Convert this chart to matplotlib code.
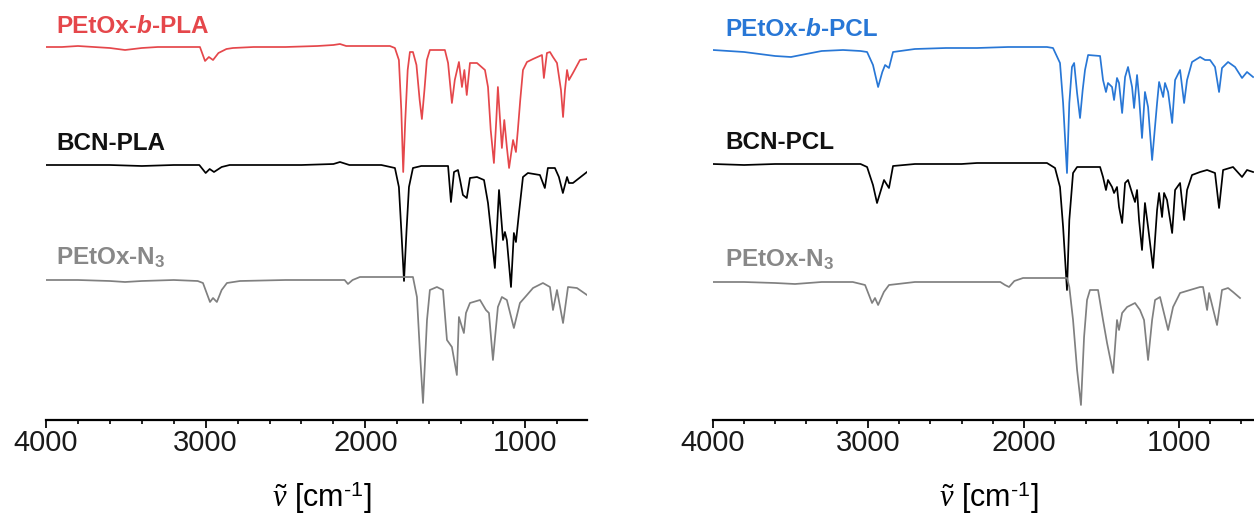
import matplotlib
matplotlib.use("Agg")
import matplotlib.pyplot as plt
from matplotlib.ticker import MultipleLocator

plt.rcParams['font.family'] = ['Liberation Sans', 'DejaVu Sans']
plt.rcParams['mathtext.fontset'] = 'custom'
plt.rcParams['mathtext.rm'] = 'Liberation Sans'
plt.rcParams['mathtext.it'] = 'Liberation Serif:italic'
plt.rcParams['mathtext.bf'] = 'Liberation Sans:bold'

# ---------------- data (wavenumber [cm-1], stacked absorbance a.u., inverted axis) ----------------
pla_block_wn = [4000, 3900, 3800, 3700, 3600, 3505, 3400, 3300, 3200, 3100, 3036, 3004, 2980, 2954, 2920,
                2870, 2829, 2700, 2500, 2300, 2200, 2159, 2120, 2000, 1900, 1846, 1815, 1790, 1775, 1763,
                1750, 1735, 1721, 1702, 1680, 1660, 1646, 1630, 1615, 1596, 1502, 1482, 1458, 1440, 1414,
                1395, 1380, 1365, 1345, 1301, 1251, 1232, 1215, 1195, 1180, 1170, 1145, 1130, 1114, 1100,
                1075, 1057, 1045, 1030, 1013, 988, 950, 894, 882, 863, 844, 825, 800, 775, 762,
                750, 737, 725, 700, 656, 612]
pla_block_a = [47, 47, 46, 47, 48, 50, 48, 47, 47, 47, 47, 61, 57, 60, 53,
               49, 48, 47, 47, 46, 45, 44, 46, 46, 46, 46, 48, 60, 110, 172,
               120, 70, 52, 52, 65, 100, 119, 90, 60, 50, 50, 63, 103, 80, 62,
               87, 70, 95, 63, 63, 70, 87, 130, 163, 120, 87, 148, 120, 147, 168,
               140, 152, 130, 100, 70, 62, 59, 55, 78, 53, 52, 57, 63, 90, 117,
               90, 70, 80, 73, 60, 59]

bcn_pla_wn = [4000, 3800, 3600, 3400, 3200, 3040, 3000, 2975, 2948, 2900, 2850, 2600, 2400, 2200, 2159,
              2100, 1900, 1815, 1790, 1775, 1758, 1742, 1727, 1702, 1650, 1482, 1464, 1445, 1420, 1407,
              1389, 1365, 1345, 1301, 1257, 1232, 1214, 1189, 1163, 1138, 1126, 1114, 1088, 1070, 1057,
              1038, 1013, 982, 907, 876, 857, 813, 788, 763, 737, 725, 700, 612]
bcn_pla_a = [165, 165, 165, 166, 165, 165, 173, 169, 172, 167, 165, 165, 165, 164, 162,
             165, 165, 168, 187, 230, 281, 230, 187, 168, 166, 166, 202, 172, 170, 180,
             195, 198, 178, 177, 180, 203, 230, 268, 190, 240, 232, 240, 287, 233, 242,
             213, 177, 173, 175, 188, 168, 168, 177, 193, 177, 183, 183, 172]

n3_left_wn = [4000, 3800, 3600, 3505, 3400, 3200, 3050, 3017, 2973, 2954, 2930, 2900, 2867, 2785, 2500,
              2200, 2130, 2109, 2080, 2034, 1900, 1702, 1677, 1658, 1639, 1614, 1596, 1552, 1514, 1489,
              1458, 1427, 1414, 1395, 1383, 1370, 1345, 1282, 1245, 1226, 1201, 1170, 1145, 1114, 1070,
              1032, 988, 950, 888, 844, 825, 800, 762, 731, 675, 612]
n3_left_a = [280, 280, 281, 282, 281, 280, 281, 283, 302, 298, 302, 290, 283, 281, 280,
             280, 280, 284, 280, 277, 277, 277, 297, 353, 403, 320, 290, 287, 290, 340,
             347, 375, 317, 327, 333, 313, 303, 300, 310, 313, 360, 307, 297, 300, 328,
             303, 295, 288, 283, 287, 310, 290, 323, 287, 288, 295]

pcl_block_wn = [4000, 3900, 3800, 3700, 3600, 3498, 3400, 3300, 3163, 3050, 3008, 2970, 2937, 2910, 2892,
                2867, 2841, 2700, 2500, 2300, 2100, 2000, 1850, 1811, 1766, 1746, 1721, 1706, 1689, 1675,
                1656, 1637, 1620, 1605, 1585, 1508, 1489, 1470, 1457, 1431, 1418, 1399, 1386, 1366, 1347,
                1328, 1302, 1289, 1270, 1257, 1238, 1219, 1199, 1173, 1141, 1128, 1102, 1090, 1070, 1044,
                1025, 993, 967, 948, 916, 864, 832, 800, 768, 742, 723, 684, 639, 594, 562,
                523]
pcl_block_a = [50, 51, 52, 54, 56, 57, 54, 51, 50, 51, 52, 65, 87, 72, 65,
               68, 52, 49, 48, 48, 47, 47, 47, 48, 63, 103, 173, 103, 67, 63,
               93, 118, 90, 70, 55, 56, 80, 92, 83, 87, 100, 78, 83, 113, 77,
               67, 87, 108, 75, 97, 138, 92, 107, 160, 103, 82, 97, 83, 92, 123,
               80, 70, 103, 80, 62, 57, 60, 60, 67, 92, 68, 62, 67, 78, 72,
               77]

bcn_pcl_wn = [4000, 3800, 3600, 3400, 3200, 3050, 3008, 2970, 2944, 2899, 2867, 2841, 2700, 2400, 2300,
              2100, 2000, 1850, 1798, 1766, 1746, 1721, 1706, 1682, 1656, 1508, 1489, 1470, 1457, 1431,
              1418, 1399, 1386, 1366, 1347, 1328, 1302, 1283, 1270, 1257, 1238, 1219, 1199, 1167, 1141,
              1128, 1109, 1096, 1077, 1044, 1025, 993, 967, 948, 916, 864, 819, 768, 742, 716,
              652, 594, 562, 523]
bcn_pcl_a = [164, 165, 164, 164, 164, 164, 167, 185, 203, 180, 188, 166, 164, 164, 163,
             163, 163, 163, 168, 187, 227, 290, 220, 173, 167, 167, 177, 190, 180, 187,
             193, 187, 207, 223, 183, 180, 193, 202, 190, 220, 250, 203, 227, 268, 210,
             193, 217, 193, 200, 233, 190, 183, 220, 190, 175, 172, 170, 173, 208, 170,
             167, 177, 170, 172]

n3_right_wn = [4000, 3800, 3600, 3472, 3300, 3100, 3021, 2976, 2957, 2937, 2900, 2867, 2700, 2300, 2150,
               2120, 2094, 2060, 2004, 1850, 1721, 1706, 1682, 1656, 1631, 1611, 1592, 1573, 1521, 1489,
               1463, 1424, 1399, 1386, 1366, 1334, 1283, 1251, 1225, 1199, 1173, 1154, 1122, 1070, 1038,
               993, 929, 864, 845, 819, 806, 755, 723, 684, 652, 607]
n3_right_a = [282, 282, 283, 284, 282, 282, 285, 303, 298, 305, 292, 285, 282, 282, 282,
              285, 287, 281, 278, 278, 278, 287, 320, 370, 405, 337, 300, 290, 290, 320,
              343, 373, 320, 330, 313, 307, 303, 310, 320, 360, 320, 300, 297, 330, 307,
              293, 290, 287, 287, 310, 293, 325, 290, 288, 292, 298]

panels = [
    dict(xlim=(4000, 612),
         series=[(pla_block_wn, pla_block_a, '#E5474B'),
                 (bcn_pla_wn, bcn_pla_a, '#000000'),
                 (n3_left_wn, n3_left_a, '#808080')],
         labels=[(['PEtOx-', 'b', '-PLA'], '#E5474B', 0.921),
                 (['BCN-PLA'], '#111111', 0.643),
                 (['PEtOx-N$_{\\mathbf{3}}$'], '#888888', 0.369)],
         rect=[46 / 1254, 98 / 518, 541 / 1254, 420 / 518], lx=0.0185),
    dict(xlim=(4000, 517),
         series=[(pcl_block_wn, pcl_block_a, '#2877D6'),
                 (bcn_pcl_wn, bcn_pcl_a, '#000000'),
                 (n3_right_wn, n3_right_a, '#808080')],
         labels=[(['PEtOx-', 'b', '-PCL'], '#2877D6', 0.914),
                 (['BCN-PCL'], '#111111', 0.645),
                 (['PEtOx-N$_{\\mathbf{3}}$'], '#888888', 0.364)],
         rect=[713 / 1254, 98 / 518, 541 / 1254, 420 / 518], lx=0.022),
]

fig = plt.figure(figsize=(12.54, 5.18), dpi=100)

for p in panels:
    ax = fig.add_axes(p['rect'])
    for wn, a, c in p['series']:
        ax.plot(wn, a, color=c, lw=1.25, solid_joinstyle='round')
    ax.set_xlim(*p['xlim'])
    ax.set_ylim(420, 0)
    for s in ['top', 'left', 'right']:
        ax.spines[s].set_visible(False)
    ax.spines['bottom'].set_linewidth(1.6)
    ax.set_yticks([])
    ax.xaxis.set_major_locator(MultipleLocator(1000))
    ax.xaxis.set_minor_locator(MultipleLocator(200))
    ax.tick_params(axis='x', which='major', direction='out', length=5.5, width=1.4,
                   labelsize=21, pad=1, colors='#1a1a1a')
    ax.tick_params(axis='x', which='minor', direction='out', length=2.8, width=1.2)
    ax.set_xlabel('$\\tilde{\\nu}$ [cm$^{\u2010 1}$]', fontsize=22, labelpad=16)
    ax.xaxis.label.set_x(0.51)
    ax.patch.set_alpha(0)

    for parts, col, yf in p['labels']:
        t = ax.text(p['lx'], yf, parts[0], transform=ax.transAxes, fontsize=17.5,
                    fontweight='bold', color=col, va='baseline', ha='left')
        prev = t
        for k, part in enumerate(parts[1:]):
            style = 'italic' if k == 0 else 'normal'
            prev = ax.annotate(part, xy=(1, 0), xycoords=prev, fontsize=17.5,
                               fontweight='bold', fontstyle=style, color=col,
                               va='bottom', ha='left')

fig.savefig('out.png', dpi=100)
